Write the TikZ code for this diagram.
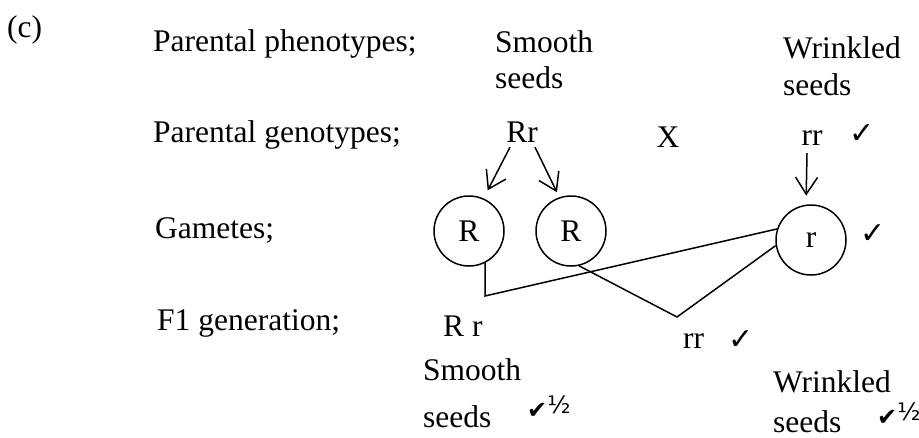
\documentclass[tikz,border=0pt]{standalone}
\usepackage{fontspec}
\setmainfont{Liberation Serif}
\newfontfamily\symfont{DejaVu Sans}
\usetikzlibrary{arrows.meta,positioning}

\begin{document}
\begin{tikzpicture}[
  x=1pt,y=-1pt,
  txt/.style={anchor=base west,inner sep=0pt,font=\fontsize{31.5}{36}\selectfont},
  mid/.style={anchor=base,inner sep=0pt,font=\fontsize{31.5}{36}\selectfont},
  gamete/.style={draw,circle,line width=1.5pt,minimum size=70pt,inner sep=0pt,font=\fontsize{31.5}{36}\selectfont},
  tick/.style={inner sep=0pt,font=\symfont\fontsize{30}{34}\selectfont},
  halftick/.style={anchor=base west,inner sep=0pt,font=\symfont\fontsize{24}{28}\selectfont},
  link/.style={line width=1.5pt},
  arr/.style={line width=1.5pt,-{Straight Barb[length=17pt,width=22pt]}}
]
\useasboundingbox (0,0) rectangle (919,437);

\node[txt] (lbl) at (7,37) {(c)};

\node[txt] (phen) at (153,51) {Parental phenotypes;};
\node[txt] (gen) at (153,142) {Parental genotypes;};
\node[txt] (gam) at (155,238) {Gametes;};
\node[txt] (fone) at (157,330) {F1 generation;};

\node[txt] (ps1) at (495,52) {Smooth};
\node[txt] (ps2) at ([shift={(0,36)}]ps1.base west) {seeds};
\node[txt] (pw1) at (783,58) {Wrinkled};
\node[txt] (pw2) at ([shift={(0,37)}]pw1.base west) {seeds};

\node[mid] (gRr) at (522,142) {Rr};
\node[mid] (cross) at (668,147) {X};
\node[mid] (grr) at (812,145) {rr};
\node[tick] (ck1) at (862,134) {✓};

\node[gamete] (gR1) at (469,231) {R};
\node[gamete] (gR2) at (571,231) {R};
\node[gamete] (gr) at (811,240) {r};
\node[tick] (ck2) at (873,234) {✓};

\draw[arr,shorten >=9pt] ([shift={(-12,5)}]gRr.south) -- (gR1.66);
\draw[arr,shorten >=5.5pt] ([shift={(13,5)}]gRr.south) -- (gR2.109);
\draw[arr,shorten >=9pt] ([shift={(-5,8)}]grr.south) -- (gr.98);

\coordinate (j1) at (485,296);
\coordinate (j2) at (677,317);
\draw[link] (gR1.-63) -- (j1) -- (gr.162);
\draw[link] (gR2.-77) -- (j2) -- (gr.189);

\node[txt] (fRr) at (443,336) {R r};
\node[txt] (frr) at (683,348) {rr};
\node[tick] (ck3) at (741,340) {✓};

\node[txt] (os1) at (423,380) {Smooth};
\node[txt] (os2) at ([shift={(0,47)}]os1.base west) {seeds};
\node[halftick] (ck4) at (527,418) {✔\raisebox{5pt}{\fontsize{24}{28}\selectfont ½}};

\node[txt] (ow1) at (773,392) {Wrinkled};
\node[txt] (ow2) at ([shift={(0,40)}]ow1.base west) {seeds};
\node[halftick] (ck5) at (877,425) {✔\raisebox{5pt}{\fontsize{24}{28}\selectfont ½}};
\end{tikzpicture}
\end{document}
